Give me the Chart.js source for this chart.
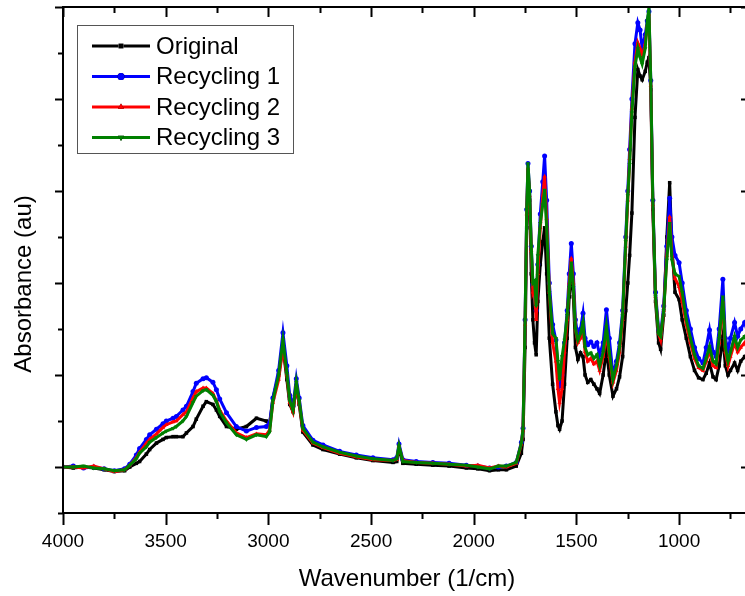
<!DOCTYPE html>
<html>
<head>
<meta charset="utf-8">
<script src="https://cdn.jsdelivr.net/npm/chart.js@4.4.0/dist/chart.umd.min.js"></script>
<style>
html, body { margin: 0; padding: 0; background: #fff; overflow: hidden; }
#wrap { position: relative; width: 760px; height: 596px; }
</style>
</head>
<body>
<div id="wrap"><canvas id="myChart" width="760" height="596"></canvas></div>
<script>
// FTIR spectra (absorbance in arbitrary units)
const wavenumbers = [
  4000, 3950, 3900, 3850, 3800, 3750, 3700, 3675, 3643, 3627,
  3594, 3578, 3545, 3513, 3497, 3464, 3448, 3416, 3399, 3367,
  3351, 3318, 3302, 3270, 3253, 3237, 3204, 3156, 3107, 3058,
  3010, 2994, 2978, 2950, 2929, 2910, 2896, 2880, 2864, 2850,
  2832, 2783, 2734, 2653, 2572, 2491, 2393, 2375, 2364, 2345,
  2280, 2199, 2120, 2036, 1980, 1923, 1880, 1841, 1793, 1768,
  1760, 1750, 1742, 1736, 1728, 1720, 1712, 1704, 1696, 1688,
  1676, 1664, 1655, 1645, 1632, 1616, 1600, 1590, 1582, 1570,
  1558, 1545, 1535, 1525, 1515, 1505, 1493, 1480, 1468, 1458,
  1445, 1430, 1415, 1400, 1387, 1370, 1354, 1340, 1322, 1305,
  1290, 1275, 1260, 1250, 1241, 1230, 1215, 1201, 1190, 1180,
  1165, 1155, 1147, 1138, 1128, 1115, 1100, 1090, 1075, 1060,
  1046, 1035, 1020, 1000, 985, 965, 945, 925, 905, 884,
  868, 852, 835, 820, 805, 787, 775, 762, 750, 730,
  715, 700, 681, 665, 650
];

const original = [
  0.00, -0.01, 0.00, -0.01, -0.03, -0.05, -0.04, 0.00, 0.04, 0.06,
  0.14, 0.19, 0.26, 0.30, 0.32, 0.33, 0.33, 0.33, 0.37, 0.44,
  0.52, 0.66, 0.71, 0.68, 0.62, 0.55, 0.44, 0.41, 0.44, 0.53,
  0.50, 0.46, 0.75, 1.00, 1.30, 0.95, 0.68, 0.60, 0.88, 0.68,
  0.38, 0.24, 0.19, 0.14, 0.10, 0.07, 0.05, 0.06, 0.20, 0.04,
  0.03, 0.02, 0.01, -0.01, -0.02, -0.04, -0.03, -0.03, 0.01, 0.15,
  0.30, 1.30, 2.60, 3.22, 2.90, 2.10, 1.60, 1.35, 1.22, 1.80,
  2.20, 2.45, 2.60, 2.10, 1.40, 0.90, 0.60, 0.45, 0.41, 0.50,
  0.90, 1.40, 1.85, 2.15, 1.85, 1.30, 1.17, 1.24, 1.20, 1.00,
  0.92, 0.95, 0.90, 0.85, 0.80, 1.00, 1.27, 1.00, 0.77, 0.85,
  0.98, 1.20, 1.70, 2.00, 2.30, 2.76, 3.80, 4.32, 4.25, 4.21,
  4.30, 4.40, 4.45, 4.10, 2.80, 1.80, 1.35, 1.28, 1.65, 2.50,
  3.09, 2.40, 1.90, 1.82, 1.60, 1.40, 1.20, 1.05, 0.97, 0.95,
  1.02, 1.13, 0.98, 0.95, 1.10, 1.42, 1.10, 1.00, 1.05, 1.13,
  1.05, 1.15, 1.20, 1.15, 1.18
];

const recycling1 = [
  0.00, 0.01, -0.01, 0.00, -0.02, -0.04, -0.02, 0.03, 0.13, 0.20,
  0.30, 0.35, 0.41, 0.47, 0.50, 0.53, 0.55, 0.62, 0.66, 0.82,
  0.91, 0.96, 0.97, 0.92, 0.84, 0.74, 0.59, 0.44, 0.39, 0.43,
  0.44, 0.48, 0.75, 1.05, 1.46, 1.10, 0.78, 0.66, 0.96, 0.75,
  0.45, 0.29, 0.24, 0.17, 0.13, 0.10, 0.08, 0.10, 0.25, 0.08,
  0.06, 0.05, 0.04, 0.02, 0.01, -0.01, 0.00, 0.01, 0.05, 0.27,
  0.42, 1.60, 2.80, 3.30, 3.00, 2.40, 1.98, 2.00, 1.70, 2.20,
  2.75, 3.10, 3.38, 2.90, 2.00, 1.55, 1.38, 1.05, 0.88, 1.00,
  1.35, 1.70, 2.10, 2.43, 2.10, 1.60, 1.42, 1.50, 1.67, 1.40,
  1.33, 1.36, 1.31, 1.35, 1.22, 1.35, 1.71, 1.40, 1.00, 1.15,
  1.35, 1.70, 2.50, 3.00, 3.45, 4.00, 4.60, 4.83, 4.75, 4.55,
  4.70, 4.85, 4.95, 4.20, 2.90, 1.90, 1.50, 1.45, 1.75, 2.40,
  2.92, 2.50, 2.30, 2.22, 2.00, 1.70, 1.50, 1.30, 1.18, 1.13,
  1.30, 1.49, 1.25, 1.20, 1.50, 2.04, 1.40, 1.27, 1.40, 1.57,
  1.42, 1.50, 1.57, 1.45, 1.50
];

const recycling2 = [
  0.00, 0.00, -0.01, 0.01, -0.02, -0.05, -0.03, 0.02, 0.10, 0.16,
  0.26, 0.30, 0.36, 0.43, 0.46, 0.49, 0.50, 0.57, 0.60, 0.75,
  0.82, 0.86, 0.86, 0.80, 0.72, 0.62, 0.50, 0.37, 0.32, 0.36,
  0.35, 0.40, 0.70, 0.95, 1.30, 1.00, 0.70, 0.60, 0.88, 0.70,
  0.40, 0.26, 0.21, 0.15, 0.11, 0.08, 0.07, 0.08, 0.22, 0.07,
  0.05, 0.04, 0.03, 0.01, 0.02, -0.01, 0.01, 0.00, 0.04, 0.25,
  0.40, 1.55, 2.75, 3.25, 2.95, 2.35, 1.90, 1.95, 1.60, 2.10,
  2.60, 2.95, 3.16, 2.70, 1.90, 1.35, 1.15, 0.85, 0.70, 0.85,
  1.25, 1.60, 2.00, 2.27, 2.00, 1.50, 1.35, 1.40, 1.50, 1.25,
  1.15, 1.18, 1.12, 1.15, 1.05, 1.20, 1.45, 1.20, 0.92, 1.05,
  1.25, 1.60, 2.40, 2.90, 3.35, 3.90, 4.40, 4.61, 4.55, 4.45,
  4.60, 4.80, 4.92, 4.15, 2.85, 1.85, 1.45, 1.38, 1.70, 2.30,
  2.72, 2.30, 2.05, 1.96, 1.80, 1.55, 1.35, 1.18, 1.08, 1.05,
  1.15, 1.27, 1.10, 1.08, 1.35, 1.80, 1.25, 1.10, 1.20, 1.35,
  1.25, 1.30, 1.35, 1.28, 1.30
];

const recycling3 = [
  0.00, 0.00, 0.01, -0.01, -0.02, -0.04, -0.03, 0.02, 0.09, 0.15,
  0.22, 0.27, 0.32, 0.37, 0.39, 0.42, 0.44, 0.50, 0.55, 0.70,
  0.77, 0.83, 0.84, 0.78, 0.71, 0.60, 0.48, 0.35, 0.30, 0.35,
  0.33, 0.38, 0.72, 1.00, 1.38, 1.02, 0.72, 0.62, 0.92, 0.72,
  0.42, 0.27, 0.22, 0.16, 0.12, 0.09, 0.07, 0.09, 0.23, 0.06,
  0.05, 0.04, 0.03, 0.02, 0.00, -0.02, 0.01, 0.01, 0.05, 0.26,
  0.41, 1.60, 2.80, 3.30, 3.00, 2.40, 2.00, 2.02, 1.75, 2.30,
  2.65, 2.85, 3.01, 2.60, 1.90, 1.45, 1.40, 1.15, 0.95, 1.20,
  1.38, 1.65, 1.95, 2.22, 1.95, 1.50, 1.38, 1.45, 1.57, 1.30,
  1.22, 1.24, 1.18, 1.22, 1.10, 1.25, 1.53, 1.25, 0.95, 1.10,
  1.30, 1.65, 2.45, 2.95, 3.29, 3.85, 4.35, 4.55, 4.45, 4.38,
  4.55, 4.85, 4.99, 4.20, 2.90, 1.85, 1.45, 1.42, 1.70, 2.25,
  2.65, 2.25, 2.10, 2.07, 1.90, 1.60, 1.40, 1.22, 1.10, 1.07,
  1.18, 1.31, 1.15, 1.12, 1.40, 1.85, 1.30, 1.15, 1.25, 1.42,
  1.30, 1.38, 1.42, 1.35, 1.38
];

const seriesNames = ['Original', 'Recycling 1', 'Recycling 2', 'Recycling 3'];
const seriesColors = ['#000000', '#0000ff', '#ff0000', '#008000'];
const seriesMarkers = ['rect', 'circle', 'triangle', 'triangle'];
const markerRotation = [0, 0, 0, 180];

const xTickLabels = [4000, 3500, 3000, 2500, 2000, 1500, 1000];
const xMinorTicks = [3750, 3250, 2750, 2250, 1750, 1250, 750];
const yMajorTicks = [0, 1, 2, 3, 4, 5];
const yMinorTicks = [-0.5, 0.5, 1.5, 2.5, 3.5, 4.5];

const FONT = "'Liberation Sans', Arial, sans-serif";

function toPoints(values) {
  return values.map((v, i) => ({ x: wavenumbers[i], y: v }));
}

const allSeries = [original, recycling1, recycling2, recycling3];

const datasets = allSeries.map((vals, i) => ({
  label: seriesNames[i],
  data: toPoints(vals),
  borderColor: seriesColors[i],
  backgroundColor: seriesColors[i],
  borderWidth: 3,
  pointStyle: seriesMarkers[i],
  pointRotation: markerRotation[i],
  pointRadius: 2.5,
  pointBorderWidth: 0,
  tension: 0,
  order: 3 - i   // green drawn last, on top
}));

// axis frame, tick marks, legend box and y title
const framePlugin = {
  id: 'frame',
  afterDraw(chart) {
    const ctx = chart.ctx;
    const a = chart.chartArea;
    const xs = chart.scales.x, ys = chart.scales.y;
    ctx.save();
    ctx.strokeStyle = '#000';
    ctx.lineWidth = 2;
    ctx.strokeRect(a.left, a.top, a.right - a.left, a.bottom - a.top);

    function xTick(v, len, topLen) {
      const px = Math.round(xs.getPixelForValue(v)) + 0.5;
      ctx.beginPath();
      ctx.moveTo(px, a.bottom); ctx.lineTo(px, a.bottom + len);
      ctx.moveTo(px, a.top); ctx.lineTo(px, a.top + topLen);
      ctx.stroke();
    }
    function yTick(v, len, rightLen) {
      const py = Math.round(ys.getPixelForValue(v)) + 0.5;
      ctx.beginPath();
      ctx.moveTo(a.left, py); ctx.lineTo(a.left - len, py);
      ctx.moveTo(a.right, py); ctx.lineTo(a.right - rightLen, py);
      ctx.stroke();
    }
    xTickLabels.forEach(v => xTick(v, 12, 10));
    xMinorTicks.forEach(v => xTick(v, 6, 6));
    yMajorTicks.forEach(v => yTick(v, 8, 10));
    yMinorTicks.forEach(v => yTick(v, 5, 6));

    // y axis title
    ctx.fillStyle = '#000';
    ctx.font = '24px ' + FONT;
    ctx.textAlign = 'center';
    ctx.textBaseline = 'middle';
    ctx.translate(24, 284);
    ctx.rotate(-Math.PI / 2);
    ctx.fillText('Absorbance (au)', 0, 0);
    ctx.setTransform(1, 0, 0, 1, 0, 0);

    // legend
    ctx.fillStyle = '#fff';
    ctx.fillRect(77, 25, 216, 128);
    ctx.lineWidth = 1;
    ctx.strokeStyle = '#555';
    ctx.strokeRect(77.5, 25.5, 216, 128);
    seriesNames.forEach((name, i) => {
      const y = 46 + i * 30.5;
      ctx.strokeStyle = seriesColors[i];
      ctx.lineWidth = 3;
      ctx.beginPath();
      ctx.moveTo(92, y); ctx.lineTo(150, y);
      ctx.stroke();
      Chart.helpers.drawPoint(ctx, {
        pointStyle: seriesMarkers[i], radius: 3.5, rotation: markerRotation[i], borderWidth: 0
      }, 121, y);
      ctx.fillStyle = seriesColors[i];
      ctx.fill();
      ctx.fillStyle = '#000';
      ctx.font = '24px ' + FONT;
      ctx.textAlign = 'left';
      ctx.textBaseline = 'middle';
      ctx.fillText(name, 156, y + 1);
    });
    ctx.restore();
  }
};

const ctx = document.getElementById('myChart').getContext('2d');
const chart = new Chart(ctx, {
  type: 'line',
  data: { datasets: datasets },
  options: {
    responsive: false,
    animation: false,
    layout: { padding: { top: 7, right: 9, left: 0, bottom: 0 } },
    plugins: { legend: { display: false }, tooltip: { enabled: false } },
    scales: {
      x: {
        type: 'linear',
        reverse: true,
        min: 650,
        max: 4000,
        grid: { display: false, drawTicks: false },
        border: { display: false },
        afterBuildTicks: s => { s.ticks = xTickLabels.map(v => ({ value: v })); },
        afterFit: s => { s.height = 83; },
        ticks: {
          color: '#000',
          padding: 17,
          maxRotation: 0,
          autoSkip: false,
          font: { family: FONT, size: 19 },
          callback: v => String(v)
        },
        title: {
          display: true,
          text: 'Wavenumber (1/cm)',
          color: '#000',
          padding: { top: 0, bottom: 2 },
          font: { family: FONT, size: 24 }
        }
      },
      y: {
        min: -0.5,
        max: 5,
        grid: { display: false, drawTicks: false },
        border: { display: false },
        afterFit: s => { s.width = 63; },
        ticks: { display: false }
      }
    }
  },
  plugins: [framePlugin]
});
</script>
</body>
</html>
